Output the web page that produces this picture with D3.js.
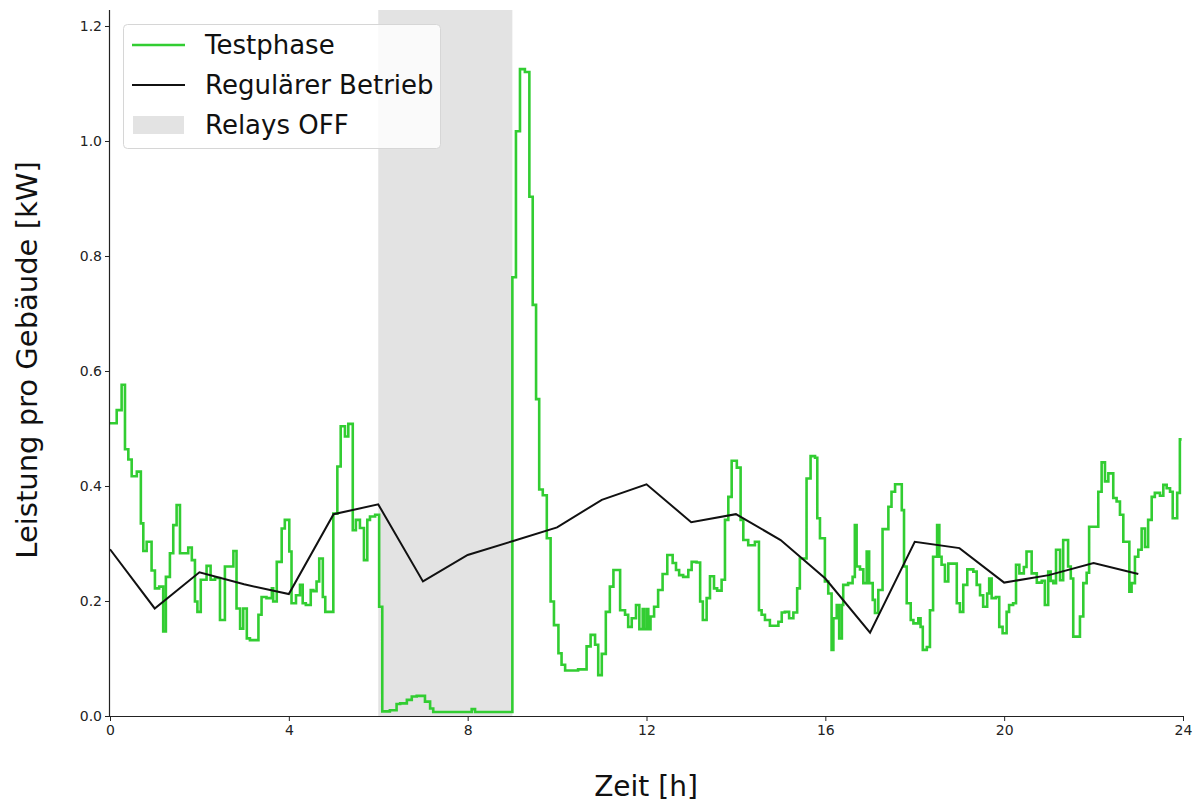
<!DOCTYPE html>
<html><head><meta charset="utf-8">
<script src="https://cdn.jsdelivr.net/npm/d3@7"></script>
<style>body{margin:0;background:#fff}svg{display:block;font-family:"DejaVu Sans",sans-serif}</style>
</head><body><svg id="c" width="1193" height="800"></svg>
<script>
// Testphase: step change times [h] and values [kW]
const testTimes = [0,0.15,0.26,0.335,0.41,0.485,0.60,0.69,0.745,0.82,0.93,1.005,1.10,1.19,1.25,1.34,1.415,1.49,1.565,1.75,1.83,1.90,1.955,2.03,2.16,2.25,2.35,2.46,2.57,2.76,2.83,2.91,2.98,3.06,3.13,3.32,3.39,3.50,3.62,3.65,3.73,3.84,3.91,4.01,4.06,4.16,4.25,4.31,4.38,4.49,4.55,4.62,4.68,4.76,4.815,4.995,5.085,5.16,5.255,5.33,5.43,5.50,5.59,5.68,5.755,5.815,5.93,6.02,6.09,6.26,6.41,6.49,6.64,6.75,6.86,7.045,7.16,7.23,8.09,8.165,9.0,9.08,9.17,9.28,9.38,9.455,9.53,9.60,9.68,9.77,9.855,9.93,10.03,10.10,10.18,10.47,10.66,10.75,10.85,10.92,11.0,11.09,11.18,11.26,11.41,11.52,11.59,11.67,11.765,11.84,11.915,11.94,12.0,12.04,12.09,12.17,12.26,12.36,12.465,12.585,12.66,12.73,12.82,12.935,13.01,13.12,13.20,13.26,13.345,13.42,13.51,13.58,13.68,13.755,13.83,13.905,14.02,14.105,14.165,14.275,14.425,14.515,14.575,14.65,14.76,14.95,15.025,15.095,15.19,15.285,15.37,15.43,15.58,15.67,15.77,15.82,15.88,15.99,16.065,16.14,16.18,16.255,16.31,16.37,16.40,16.51,16.61,16.66,16.70,16.775,16.85,16.925,16.98,17.06,17.11,17.185,17.28,17.41,17.48,17.56,17.71,17.76,17.82,17.91,17.97,18.08,18.13,18.18,18.27,18.34,18.41,18.50,18.55,18.60,18.675,18.75,18.94,19.01,19.085,19.175,19.31,19.385,19.46,19.53,19.62,19.665,19.72,19.815,19.89,19.965,20.055,20.11,20.20,20.265,20.34,20.44,20.50,20.615,20.73,20.84,20.91,20.985,21.04,21.10,21.16,21.25,21.32,21.43,21.49,21.545,21.695,21.77,21.845,21.90,22.105,22.18,22.255,22.33,22.44,22.515,22.59,22.665,22.80,22.85,22.925,23.0,23.075,23.15,23.22,23.30,23.37,23.485,23.56,23.635,23.71,23.77,23.87,23.93,23.97];
const testValues = [0.509,0.532,0.576,0.464,0.446,0.417,0.425,0.335,0.287,0.303,0.253,0.222,0.225,0.147,0.242,0.283,0.332,0.367,0.283,0.293,0.271,0.199,0.181,0.237,0.261,0.237,0.240,0.167,0.260,0.287,0.187,0.152,0.187,0.135,0.132,0.176,0.207,0.205,0.222,0.199,0.268,0.326,0.341,0.286,0.196,0.210,0.228,0.196,0.193,0.219,0.217,0.234,0.274,0.207,0.181,0.352,0.434,0.504,0.486,0.508,0.323,0.341,0.327,0.271,0.341,0.347,0.350,0.190,0.008,0.010,0.021,0.022,0.028,0.034,0.035,0.025,0.013,0.007,0.012,0.007,0.763,1.017,1.125,1.120,0.903,0.715,0.551,0.394,0.384,0.309,0.199,0.158,0.109,0.089,0.079,0.081,0.121,0.141,0.124,0.071,0.108,0.181,0.225,0.254,0.184,0.176,0.155,0.170,0.193,0.151,0.186,0.151,0.186,0.151,0.173,0.190,0.219,0.247,0.280,0.266,0.254,0.245,0.242,0.254,0.268,0.267,0.199,0.167,0.205,0.243,0.222,0.218,0.237,0.341,0.381,0.444,0.432,0.341,0.306,0.297,0.303,0.184,0.176,0.167,0.157,0.164,0.180,0.181,0.170,0.180,0.222,0.274,0.413,0.452,0.449,0.344,0.309,0.234,0.213,0.115,0.170,0.193,0.135,0.193,0.228,0.231,0.242,0.332,0.260,0.255,0.231,0.286,0.231,0.202,0.179,0.219,0.325,0.364,0.390,0.403,0.358,0.260,0.196,0.167,0.161,0.170,0.155,0.115,0.120,0.184,0.277,0.332,0.277,0.263,0.234,0.265,0.196,0.181,0.228,0.255,0.251,0.228,0.210,0.190,0.213,0.239,0.205,0.207,0.155,0.144,0.181,0.193,0.196,0.263,0.248,0.259,0.286,0.248,0.232,0.235,0.193,0.251,0.235,0.231,0.289,0.236,0.306,0.260,0.239,0.138,0.173,0.231,0.249,0.329,0.390,0.441,0.408,0.422,0.379,0.373,0.350,0.303,0.216,0.231,0.277,0.289,0.326,0.294,0.341,0.381,0.388,0.383,0.402,0.396,0.390,0.344,0.388,0.481,0.481];
// Regulärer Betrieb: hourly values
const regHours = [0,1,2,3,4,5,6,7,8,9,10,11,12,13,14,15,16,17,18,19,20,21,22,23];
const regValues = [0.290,0.187,0.250,0.229,0.212,0.351,0.368,0.234,0.280,0.304,0.328,0.376,0.403,0.337,0.351,0.306,0.239,0.145,0.303,0.292,0.232,0.245,0.266,0.247];
const relaysOff = [6, 9];
const xTicks = [0,4,8,12,16,20,24];
const yTicks = [0.0,0.2,0.4,0.6,0.8,1.0,1.2];
const legendLabels = ["Testphase","Regulärer Betrieb","Relays OFF"];
const xLabel = "Zeit [h]";
const yLabel = "Leistung pro Gebäude [kW]";

const svg = d3.select("#c");
const L=110, R=1183, T=10, B=716;
const x = d3.scaleLinear().domain([0,24]).range([L,R]);
const y = d3.scaleLinear().domain([0,1.2278]).range([B,T]);

// relays off span
svg.append("rect").attr("x",x(relaysOff[0])).attr("y",T)
  .attr("width",x(relaysOff[1])-x(relaysOff[0])).attr("height",B-T)
  .attr("fill","#e3e3e3");

const testData = testTimes.map((t,i)=>[t,testValues[i]]);
svg.append("path").datum(testData)
  .attr("d",d3.line().x(d=>x(d[0])).y(d=>y(d[1])).curve(d3.curveStepAfter))
  .attr("fill","none").attr("stroke","#32cd32").attr("stroke-width",2.6).attr("stroke-linejoin","miter");

const regData = regHours.map((h,i)=>[h,regValues[i]]);
svg.append("path").datum(regData)
  .attr("d",d3.line().x(d=>x(d[0])).y(d=>y(d[1])))
  .attr("fill","none").attr("stroke","#111").attr("stroke-width",2);

// axes
const xa = svg.append("g").attr("transform",`translate(0,${B})`)
  .call(d3.axisBottom(x).tickValues(xTicks).tickFormat(d3.format("d")).tickSize(5).tickPadding(4));
const ya = svg.append("g").attr("transform",`translate(${L},0)`)
  .call(d3.axisLeft(y).tickValues(yTicks).tickFormat(d3.format(".1f")).tickSize(5).tickPadding(3));
[xa,ya].forEach(a=>{
  a.selectAll("text").attr("font-size",14).attr("font-family","DejaVu Sans").attr("fill","#222");
  a.selectAll("line").attr("stroke","#222").attr("stroke-width",1);
  a.select(".domain").attr("stroke","#222").attr("stroke-width",1.2);
});
ya.select(".domain").attr("d",`M-0.5,${B}V${T}`);
xa.select(".domain").attr("d",`M${L},0.5H${R}`);

svg.append("text").attr("x",646).attr("y",796).attr("text-anchor","middle")
  .attr("font-size",28).attr("fill","#111").text(xLabel);
svg.append("text").attr("transform",`translate(37,360) rotate(-90)`).attr("text-anchor","middle")
  .attr("font-size",29).attr("fill","#111").text(yLabel);

// legend
const lg = svg.append("g");
lg.append("rect").attr("x",123.5).attr("y",24.5).attr("width",317).attr("height",124).attr("rx",4)
  .attr("fill","#fff").attr("fill-opacity",0.8).attr("stroke","#d6d6d6").attr("stroke-width",1);
const rows=[45,85,125];
lg.append("line").attr("x1",132).attr("x2",185).attr("y1",rows[0]).attr("y2",rows[0]).attr("stroke","#32cd32").attr("stroke-width",2.6);
lg.append("line").attr("x1",132).attr("x2",185).attr("y1",rows[1]).attr("y2",rows[1]).attr("stroke","#111").attr("stroke-width",2);
lg.append("rect").attr("x",133).attr("y",rows[2]-9).attr("width",51).attr("height",18).attr("fill","#e3e3e3");
legendLabels.forEach((s,i)=>lg.append("text").attr("x",205).attr("y",rows[i]+9).attr("font-size",26).attr("fill","#111").text(s));
</script></body></html>
